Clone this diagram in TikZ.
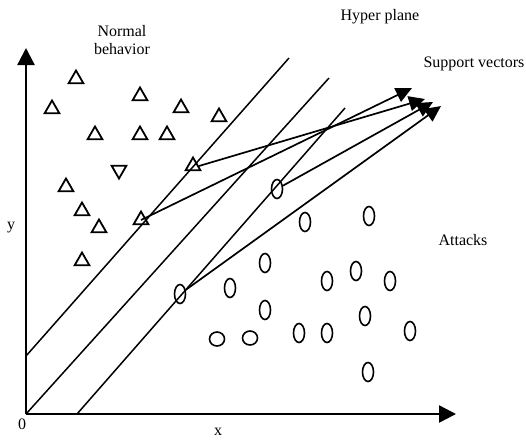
\documentclass[tikz,border=0pt]{standalone}
\usepackage{fontspec}
\setmainfont{Liberation Serif}
\usetikzlibrary{arrows.meta,shapes.geometric}
\begin{document}
\begin{tikzpicture}[x=1pt,y=-1pt,
  axis/.style={line width=2.4pt,-{Triangle[length=17pt,width=17pt]}},
  hplane/.style={line width=1.5pt},
  vec/.style={line width=1.7pt,-{Triangle[length=16pt,width=15pt]}},
  tri/.style={draw,line width=1.8pt,regular polygon,regular polygon sides=3,minimum size=17pt,inner sep=0pt},
  itri/.style={tri,shape border rotate=180},
  oval/.style={draw,line width=1.6pt,ellipse,minimum width=11pt,minimum height=19pt,inner sep=0pt},
  circ/.style={draw,line width=1.6pt,ellipse,minimum width=15pt,minimum height=14pt,inner sep=0pt},
  lbl/.style={font=\fontsize{16pt}{18pt}\selectfont,inner sep=0pt,align=center}]
\useasboundingbox (0,0) rectangle (526,440);
% axes
\coordinate (o) at (26,414);
\coordinate (ytop) at (26,48);
\coordinate (xend) at (456,414);
\draw[axis] (o) -- (ytop);
\draw[axis] (o) -- (xend);
% hyperplanes
\coordinate (h1a) at (26,356); \coordinate (h1b) at (289,58);
\coordinate (h2a) at (26,414); \coordinate (h2b) at (329,78);
\coordinate (h3a) at (77,414); \coordinate (h3b) at (345,108);
\draw[hplane] (h1a) -- (h1b);
\draw[hplane] (h2a) -- (h2b);
\draw[hplane] (h3a) -- (h3b);
% triangles (normal behaviour)
\node[tri] (t1) at (76,79) {};
\node[tri] (t2) at (52,109) {};
\node[tri] (t3) at (140,96) {};
\node[tri] (t4) at (181,108) {};
\node[tri] (t5) at (219,117) {};
\node[tri] (t6) at (95,135) {};
\node[tri] (t7) at (140,135) {};
\node[tri] (t8) at (167,135) {};
\node[itri] (t9) at (119,170) {};
\node[tri] (t10) at (193,166) {};
\node[tri] (t11) at (66,187) {};
\node[tri] (t12) at (82,211) {};
\node[tri] (t13) at (99,228) {};
\node[tri] (t14) at (82,261) {};
\node[tri] (t15) at (141,220) {};
% ovals (attacks)
\node[oval] (e1) at (277,189) {};
\node[oval] (e2) at (180,294) {};
\node[oval] (e3) at (305,222) {};
\node[oval] (e4) at (369,216) {};
\node[oval] (e5) at (265,263) {};
\node[oval] (e6) at (230,288) {};
\node[oval] (e7) at (327,281) {};
\node[oval] (e8) at (356,271) {};
\node[oval] (e9) at (390,281) {};
\node[oval] (e10) at (265,310) {};
\node[oval] (e11) at (365,316) {};
\node[oval] (e12) at (299,333) {};
\node[oval] (e13) at (327,333) {};
\node[oval] (e14) at (410,331) {};
\node[oval] (e15) at (368,372) {};
\node[circ] (c1) at (217,339) {};
\node[circ] (c2) at (250,338) {};
% support vector arrows
\coordinate (p1) at (412,88);
\coordinate (p2) at (425,99);
\coordinate (p3) at (433,102);
\coordinate (p4) at (441,106);
\draw[vec] (t15.center) -- (p1);
\draw[vec] (t10.east) -- (p2);
\draw[vec] (e1) -- (p3);
\draw[vec] (e2) -- (p4);
% labels
\node[lbl] (ln) at (122,40) {Normal\\behavior};
\node[lbl] (lh) at (380,17) {Hyper plane};
\node[lbl] (ls) at (474,64) {Support vectors};
\node[lbl] (la) at (463,240) {Attacks};
\node[lbl] (ly) at (11,228) {y};
\node[lbl] (l0) at (22,424) {0};
\node[lbl] (lx) at (218,432) {x};
\end{tikzpicture}
\end{document}
